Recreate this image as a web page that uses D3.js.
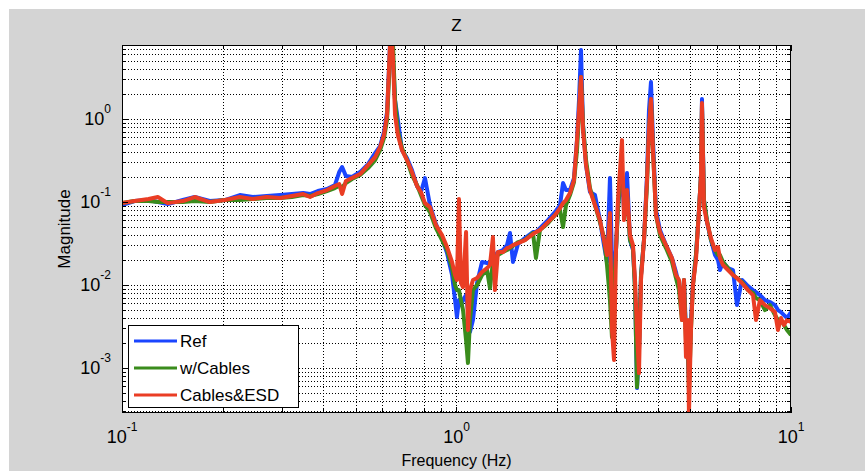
<!DOCTYPE html>
<html>
  <head>
    <meta charset="utf-8" />
    <title>Z</title>
    <script src="https://d3js.org/d3.v7.min.js"></script>
    <style type="text/css">
      body { margin: 0; background: white; }
      text { font-family: "Liberation Sans", Arial, sans-serif; fill: black; }
    </style>
  </head>
  <body>
    <div id="chart"></div>
    <script type="text/javascript">
      // frequency (Hz) and the three magnitude traces
      var freq = [0.1, 0.109, 0.120, 0.128, 0.137, 0.152, 0.165, 0.183, 0.203, 0.225,
        0.246, 0.271, 0.297, 0.322, 0.348, 0.365, 0.385, 0.410, 0.433, 0.446,
        0.455, 0.467, 0.487, 0.515, 0.544, 0.571, 0.591, 0.607, 0.620, 0.628,
        0.637, 0.646, 0.655, 0.668, 0.687, 0.711, 0.736, 0.762, 0.783, 0.805,
        0.833, 0.868, 0.905, 0.937, 0.970, 0.990, 1.003, 1.017, 1.031, 1.046,
        1.068, 1.082, 1.097, 1.120, 1.152, 1.192, 1.234, 1.259, 1.285, 1.303,
        1.330, 1.377, 1.416, 1.445, 1.475, 1.527, 1.602, 1.693, 1.728, 1.776,
        1.877, 1.970, 2.039, 2.082, 2.125, 2.184, 2.245, 2.292, 2.324, 2.356,
        2.389, 2.439, 2.506, 2.594, 2.685, 2.760, 2.818, 2.876, 2.916, 2.957,
        2.998, 3.039, 3.082, 3.124, 3.168, 3.234, 3.301, 3.370, 3.417, 3.464,
        3.512, 3.561, 3.635, 3.711, 3.762, 3.814, 3.867, 3.948, 4.058, 4.229,
        4.407, 4.530, 4.625, 4.721, 4.787, 4.853, 4.920, 4.954, 5.023, 5.093,
        5.199, 5.308, 5.381, 5.418, 5.493, 5.608, 5.764, 5.925, 6.049, 6.133,
        6.261, 6.480, 6.707, 6.894, 7.136, 7.437, 7.697, 7.858, 8.076, 8.359,
        8.652, 8.955, 9.142, 9.333, 9.528, 9.728, 10.0];

      var ref = [0.0918, 0.1028, 0.1057, 0.100, 0.0943, 0.1057, 0.1149, 0.1028, 0.1057, 0.1214,
        0.1149, 0.1181, 0.1214, 0.1248, 0.1283, 0.1248, 0.1356, 0.1434, 0.1602, 0.2297,
        0.2639, 0.2056, 0.200, 0.2297, 0.2867, 0.3889, 0.4721, 0.6957, 1.214, 3.889,
        15, 5.13, 1.693, 0.970, 0.4226, 0.3386, 0.2428, 0.1558, 0.1319, 0.1945,
        0.0918, 0.0542, 0.0368, 0.0243, 0.0132, 0.00658, 0.00411, 0.00658, 0.00573, 0.00658,
        0.00756, 0.00499, 0.00271, 0.00378, 0.01057, 0.0189, 0.0184, 0.0189, 0.02114, 0.02234,
        0.02496, 0.0264, 0.0303, 0.0423, 0.0189, 0.0312, 0.0368, 0.0434, 0.0434, 0.0485,
        0.0606, 0.0756, 0.0918, 0.1693, 0.1395, 0.1395, 0.1945, 0.557, 1.693, 6.767,
        0.8445, 0.2789, 0.1319, 0.1214, 0.0606, 0.0303, 0.0189, 0.1945, 0.0200, 0.01516,
        0.0264, 0.0918, 0.1395, 0.2114, 0.0799, 0.2234, 0.0348, 0.0264, 0.0100, 0.000573,
        0.00165, 0.0132, 0.0348, 0.2114, 1.283, 2.789, 0.557, 0.0799, 0.0459, 0.0303,
        0.02114, 0.01434, 0.0100, 0.00499, 0.0115, 0.00287, 0.00125, 0.000715, 0.00378, 0.01057,
        0.02297, 0.0799, 0.2114, 1.741, 0.1057, 0.0573, 0.0348, 0.02297, 0.0200, 0.01516,
        0.0189, 0.0160, 0.01516, 0.00573, 0.0115, 0.0097, 0.00868, 0.00821, 0.00756, 0.00658,
        0.00623, 0.00573, 0.00499, 0.00472, 0.00434, 0.0040, 0.00472];

      var cables = [0.0970, 0.1028, 0.1028, 0.100, 0.100, 0.100, 0.1028, 0.100, 0.1057, 0.1057,
        0.1087, 0.1117, 0.1117, 0.1149, 0.1214, 0.1181, 0.1248, 0.1356, 0.1474, 0.1558,
        0.1516, 0.1693, 0.1892, 0.2114, 0.2566, 0.3203, 0.4226, 0.5892, 0.970, 2.948,
        11.8, 7.77, 1.693, 0.7152, 0.4466, 0.3203, 0.2114, 0.1602, 0.1214, 0.0918,
        0.0756, 0.0485, 0.0348, 0.0264, 0.0160, 0.0100, 0.00868, 0.00868, 0.00658, 0.00499,
        0.00217, 0.00115, 0.00378, 0.00868, 0.0100, 0.0132, 0.01516, 0.00918, 0.0189, 0.02114,
        0.02297, 0.02496, 0.0264, 0.02789, 0.0295, 0.0329, 0.0348, 0.0423, 0.02114, 0.0459,
        0.0557, 0.0696, 0.0799, 0.0499, 0.0918, 0.1214, 0.1741, 0.4226, 1.117, 3.203,
        0.8445, 0.3203, 0.1474, 0.0918, 0.0573, 0.0368, 0.01741, 0.00658, 0.00236, 0.00868,
        0.0264, 0.0799, 0.184, 0.2114, 0.1214, 0.1214, 0.0348, 0.0279, 0.00868, 0.000589,
        0.00165, 0.0132, 0.0348, 0.1602, 0.7353, 1.693, 0.4226, 0.0696, 0.0400, 0.0279,
        0.0189, 0.01214, 0.00868, 0.00378, 0.0115, 0.00217, 0.00165, 0.000542, 0.00287, 0.0100,
        0.02297, 0.0799, 0.2114, 1.474, 0.1057, 0.0606, 0.0348, 0.0264, 0.02297, 0.02297,
        0.0189, 0.0160, 0.0132, 0.01214, 0.01087, 0.00868, 0.00801, 0.00696, 0.00658, 0.00499,
        0.00573, 0.00434, 0.00378, 0.00378, 0.00329, 0.00287, 0.0025];

      var esd = [0.0970, 0.1028, 0.1087, 0.1149, 0.0970, 0.1028, 0.1149, 0.100, 0.1057, 0.1149,
        0.1087, 0.1149, 0.1117, 0.1181, 0.1248, 0.1149, 0.1283, 0.1395, 0.1558, 0.1647,
        0.1248, 0.179, 0.1945, 0.2173, 0.2789, 0.3481, 0.4592, 0.6402, 1.117, 3.889,
        15, 5.13, 1.117, 0.640, 0.4226, 0.3203, 0.2297, 0.1558, 0.1319, 0.0970,
        0.0868, 0.0527, 0.0400, 0.0287, 0.0189, 0.0132, 0.0115, 0.1087, 0.01057, 0.00943,
        0.0434, 0.00287, 0.00868, 0.0115, 0.01214, 0.01434, 0.0160, 0.01741, 0.0378, 0.00868,
        0.02496, 0.02496, 0.02789, 0.0287, 0.0303, 0.0320, 0.0348, 0.0411, 0.0434, 0.0459,
        0.0573, 0.0696, 0.0845, 0.0970, 0.1057, 0.1283, 0.184, 0.557, 1.283, 3.203,
        0.7353, 0.2789, 0.1395, 0.0918, 0.0606, 0.0348, 0.02297, 0.0737, 0.00287, 0.00125,
        0.0264, 0.1057, 0.2428, 0.557, 0.0606, 0.1395, 0.0400, 0.0303, 0.0115, 0.00287,
        0.000868, 0.0115, 0.0348, 0.184, 0.7353, 1.741, 0.4226, 0.0696, 0.0434, 0.0303,
        0.02114, 0.0132, 0.0115, 0.00378, 0.0115, 0.001356, 0.00378, 0.00027, 0.00287, 0.0100,
        0.0200, 0.0799, 0.2114, 1.558, 0.0868, 0.0573, 0.0368, 0.0264, 0.0287, 0.02114,
        0.01741, 0.01516, 0.0132, 0.01214, 0.01057, 0.00868, 0.00756, 0.00378, 0.00658, 0.00573,
        0.00527, 0.00472, 0.00287, 0.0040, 0.00329, 0.00378, 0.00358];

      var seriesNames = ["Ref", "w/Cables", "Cables&ESD"];
      var seriesColors = ["#1a45ff", "#3a8c1c", "#ea3d24"];
      var xTicks = [0.1, 1, 10];
      var xTickExp = ["-1", "0", "1"];
      var yTicks = [0.001, 0.01, 0.1, 1];
      var yTickExp = ["-3", "-2", "-1", "0"];

      var width = 865, height = 471;
      var plotL = 122, plotR = 791, plotT = 45, plotB = 413;

      var svg = d3.select("#chart").append("svg")
          .attr("width", width)
          .attr("height", height);

      svg.append("rect")
          .attr("x", 9).attr("y", 9)
          .attr("width", width - 9).attr("height", height - 9)
          .style("fill", "#d4d4d4");

      var x = d3.scaleLog().domain([0.1, 10]).range([plotL, plotR]);
      var y = d3.scaleLog().domain([0.000287, 7.8]).range([plotB, plotT]);

      svg.append("rect")
          .attr("x", plotL).attr("y", plotT)
          .attr("width", plotR - plotL).attr("height", plotB - plotT)
          .style("fill", "white");

      // grid lines at every decade step
      var xGrid = [], yGrid = [];
      [0.1, 1].forEach(function(d) {
        for (var k = 1; k <= 10; k++) xGrid.push(d * k);
      });
      [0.0001, 0.001, 0.01, 0.1, 1].forEach(function(d) {
        for (var k = 1; k <= 9; k++) {
          var v = d * k;
          if (v >= y.domain()[0] && v <= y.domain()[1]) yGrid.push(v);
        }
      });

      var grid = svg.append("g")
          .style("stroke", "#000")
          .style("stroke-width", 1)
          .style("stroke-dasharray", "1,2")
          .style("shape-rendering", "crispEdges");
      grid.selectAll(".gx").data(xGrid.slice(1, -1)).enter().append("line")
          .attr("x1", function(d) { return Math.round(x(d)) + 0.5; })
          .attr("x2", function(d) { return Math.round(x(d)) + 0.5; })
          .attr("y1", plotT).attr("y2", plotB);
      grid.selectAll(".gy").data(yGrid).enter().append("line")
          .attr("y1", function(d) { return Math.round(y(d)) + 0.5; })
          .attr("y2", function(d) { return Math.round(y(d)) + 0.5; })
          .attr("x1", plotL).attr("x2", plotR);

      // data lines
      svg.append("clipPath").attr("id", "clip")
        .append("rect")
          .attr("x", plotL).attr("y", plotT)
          .attr("width", plotR - plotL).attr("height", plotB - plotT);

      var line = d3.line()
          .x(function(d) { return x(d[0]); })
          .y(function(d) { return y(d[1]); });

      var plot = svg.append("g").attr("clip-path", "url(#clip)");
      [ref, cables, esd].forEach(function(vals, i) {
        plot.append("path")
            .datum(freq.map(function(f, j) { return [f, vals[j]]; }))
            .attr("d", line)
            .style("fill", "none")
            .style("stroke", seriesColors[i])
            .style("stroke-width", 4)
            .style("stroke-linejoin", "round");
      });

      // ticks inside the box on all four sides
      var ticks = svg.append("g")
          .style("stroke", "#000")
          .style("stroke-width", 1)
          .style("shape-rendering", "crispEdges");
      xGrid.forEach(function(v) {
        var major = xTicks.some(function(t) { return Math.abs(t - v) / t < 1e-6; });
        var len = major ? 6 : 4;
        var px = Math.round(x(v)) + 0.5;
        ticks.append("line").attr("x1", px).attr("x2", px).attr("y1", plotB).attr("y2", plotB - len);
        ticks.append("line").attr("x1", px).attr("x2", px).attr("y1", plotT).attr("y2", plotT + len);
      });
      yGrid.forEach(function(v) {
        var major = yTicks.some(function(t) { return Math.abs(t - v) / t < 1e-6; });
        var len = major ? 6 : 4;
        var py = Math.round(y(v)) + 0.5;
        ticks.append("line").attr("y1", py).attr("y2", py).attr("x1", plotL).attr("x2", plotL + len);
        ticks.append("line").attr("y1", py).attr("y2", py).attr("x1", plotR).attr("x2", plotR - len);
      });

      svg.append("rect")
          .attr("x", plotL + 0.5).attr("y", plotT + 0.5)
          .attr("width", plotR - plotL - 1).attr("height", plotB - plotT - 1)
          .style("fill", "none")
          .style("stroke", "#000")
          .style("stroke-width", 1);

      // tick labels 10^n
      xTicks.forEach(function(v, i) {
        var t = svg.append("text")
            .attr("x", x(v))
            .attr("y", 443)
            .attr("text-anchor", "middle")
            .style("font-size", "18px");
        t.append("tspan").text("10");
        t.append("tspan").attr("dy", -12).style("font-size", "12px").text(xTickExp[i]);
      });
      yTicks.forEach(function(v, i) {
        var t = svg.append("text")
            .attr("x", 111)
            .attr("y", y(v) + 6)
            .attr("text-anchor", "end")
            .style("font-size", "18px");
        t.append("tspan").text("10");
        t.append("tspan").attr("dy", -12).style("font-size", "12px").text(yTickExp[i]);
      });

      svg.append("text")
          .attr("x", (plotL + plotR) / 2).attr("y", 31)
          .attr("text-anchor", "middle")
          .style("font-size", "17px")
          .text("Z");

      svg.append("text")
          .attr("x", (plotL + plotR) / 2).attr("y", 466)
          .attr("text-anchor", "middle")
          .style("font-size", "16px")
          .text("Frequency (Hz)");

      svg.append("text")
          .attr("transform", "translate(70," + (plotT + plotB) / 2 + ") rotate(-90)")
          .attr("text-anchor", "middle")
          .style("font-size", "17px")
          .text("Magnitude");

      // legend
      var legend = svg.append("g");
      legend.append("rect")
          .attr("x", 128.5).attr("y", 325.5)
          .attr("width", 170).attr("height", 82)
          .style("fill", "white")
          .style("stroke", "#000")
          .style("stroke-width", 1);
      seriesNames.forEach(function(name, i) {
        var ly = 341 + i * 27;
        legend.append("line")
            .attr("x1", 134).attr("x2", 177)
            .attr("y1", ly).attr("y2", ly)
            .style("stroke", seriesColors[i])
            .style("stroke-width", 3);
        legend.append("text")
            .attr("x", 180).attr("y", ly + 6)
            .style("font-size", "17px")
            .text(name);
      });
    </script>
  </body>
</html>
